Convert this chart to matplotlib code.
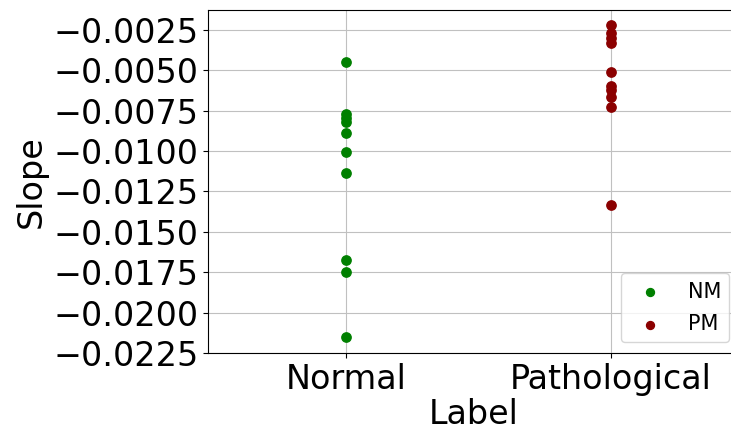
import matplotlib.pyplot as plt

# slope values per group
normal_slopes = [-0.00452, -0.00770, -0.00795, -0.00818, -0.00888,
                 -0.01008, -0.01136, -0.01673, -0.01750, -0.02150]
patho_slopes = [-0.00220, -0.00270, -0.00300, -0.00330, -0.00510,
                -0.00595, -0.00625, -0.00668, -0.00728, -0.01336]
categories = ["Normal", "Pathological"]

fig, ax = plt.subplots(figsize=(7.31, 4.33), dpi=100)

ax.scatter([categories[0]] * len(normal_slopes), normal_slopes, color="green", s=45, label="NM", zorder=3)
ax.scatter([categories[1]] * len(patho_slopes), patho_slopes, color="darkred", s=45, label="PM", zorder=3)

ax.set_xlim(-0.52, 1.487)
ax.set_ylim(-0.0225, -0.00127)
ax.set_yticks([-0.0225, -0.02, -0.0175, -0.015, -0.0125, -0.01, -0.0075, -0.005, -0.0025])
ax.grid(True, color="#c0c0c0")
ax.tick_params(labelsize=24)
ax.set_xlabel("Label", fontsize=24, labelpad=2)
ax.set_ylabel("Slope", fontsize=24)
ax.legend(loc="lower right", fontsize=15, markerscale=0.85, labelspacing=0.6)

# axes run slightly past the right edge of the canvas
plt.subplots_adjust(left=0.285, right=1.012, top=0.977, bottom=0.185)
plt.savefig("out.png")
